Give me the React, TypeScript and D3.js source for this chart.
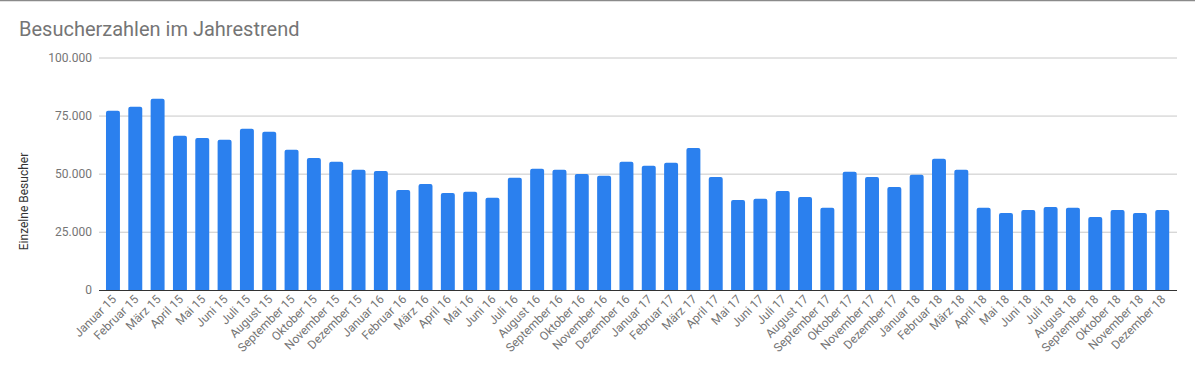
import React from "react";
import * as d3 from "d3";

const months: string[] = [
  "Januar 15", "Februar 15", "März 15", "April 15", "Mai 15", "Juni 15", "Juli 15", "August 15",
  "September 15", "Oktober 15", "November 15", "Dezember 15",
  "Januar 16", "Februar 16", "März 16", "April 16", "Mai 16", "Juni 16", "Juli 16", "August 16",
  "September 16", "Oktober 16", "November 16", "Dezember 16",
  "Januar 17", "Februar 17", "März 17", "April 17", "Mai 17", "Juni 17", "Juli 17", "August 17",
  "September 17", "Oktober 17", "November 17", "Dezember 17",
  "Januar 18", "Februar 18", "März 18", "April 18", "Mai 18", "Juni 18", "Juli 18", "August 18",
  "September 18", "Oktober 18", "November 18", "Dezember 18",
];

const visitors: number[] = [
  77300, 79000, 82500, 66500, 65600, 64800, 69500, 68200, 60500, 57000, 55300, 51900,
  51400, 43200, 45800, 41900, 42400, 39800, 48400, 52300, 51900, 50100, 49300, 55300,
  53600, 54900, 61300, 48800, 38900, 39400, 42800, 40200, 35500, 51000, 48800, 44500,
  49700, 56600, 51900, 35500, 33300, 34600, 35900, 35500, 31600, 34600, 33300, 34600,
];

const yTicks: number[] = [0, 25000, 50000, 75000, 100000];

const title = "Besucherzahlen im Jahrestrend";
const yTitle = "Einzelne Besucher";

const W = 1195;
const H = 372;
const FONT = "Roboto, 'Noto Sans', Arial, sans-serif";

const de = d3.formatLocale({ decimal: ",", thousands: ".", grouping: [3], currency: ["", " €"] });
const fmt = de.format(",d");

export default function App() {
  const x = d3
    .scaleBand<string>()
    .domain(months)
    .range([101.8, 1173.4])
    .paddingInner(0.375)
    .paddingOuter(0.1875);
  const y = d3.scaleLinear().domain([0, 100000]).range([290.3, 58]);
  const gridX0 = 99;
  const gridX1 = 1177;

  return (
    <svg
      width={W}
      height={H}
      style={{ position: "absolute", left: 0, top: 0, background: "#fff" }}
      fontFamily={FONT}
    >
      <rect x={0} y={0} width={W} height={H} fill="#fff" />
      <line x1={0} x2={W} y1={0.5} y2={0.5} stroke="#8a8a8a" strokeWidth={1.5} />
      <text x={19} y={35.5} fontSize={20} fill="#757575">
        {title}
      </text>
      {yTicks.map((t) => (
        <g key={t}>
          {t !== 0 && (
            <line x1={gridX0} x2={gridX1} y1={y(t)} y2={y(t)} stroke="#c8c8c8" strokeWidth={1} />
          )}
          <text x={92} y={y(t) + 4} fontSize={12} fill="#757575" textAnchor="end">
            {fmt(t)}
          </text>
        </g>
      ))}
      <text
        transform={`translate(28, 201.5) rotate(-90)`}
        fontSize={12}
        fill="#333"
        textAnchor="middle"
      >
        {yTitle}
      </text>
      {months.map((m, i) => {
        const bx = x(m)!;
        const by = y(visitors[i]);
        const bw = x.bandwidth();
        const bh = y(0) - by;
        const r = 2;
        const path = `M${bx},${by + bh} L${bx},${by + r} Q${bx},${by} ${bx + r},${by} L${bx + bw - r},${by} Q${bx + bw},${by} ${bx + bw},${by + r} L${bx + bw},${by + bh} Z`;
        return <path key={m} d={path} fill="#2b80ee" />;
      })}
      <line x1={gridX0} x2={gridX1} y1={290.5} y2={290.5} stroke="#333" strokeWidth={1.2} />
      {months.map((m) => {
        const cx = x(m)! + x.bandwidth() / 2;
        return (
          <text
            key={"l" + m}
            transform={`translate(${cx + 4}, 300) rotate(-45)`}
            fontSize={12}
            fill="#757575"
            textAnchor="end"
          >
            {m}
          </text>
        );
      })}
    </svg>
  );
}
